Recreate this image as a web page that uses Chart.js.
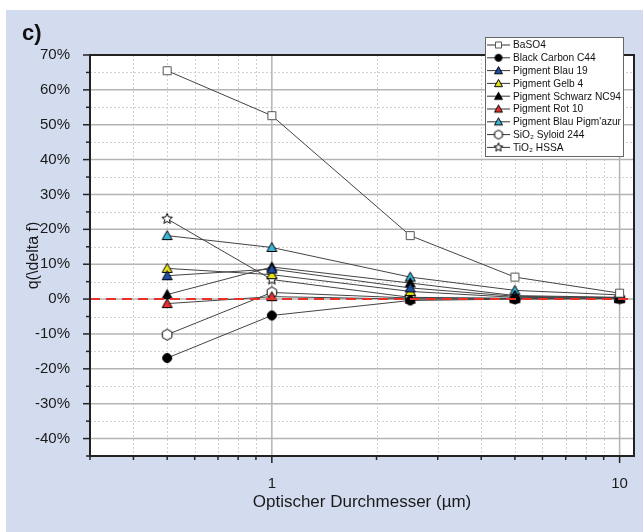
<!DOCTYPE html>
<html>
<head>
<meta charset="utf-8">
<script src="https://cdn.jsdelivr.net/npm/chart.js@4.4.1/dist/chart.umd.min.js"></script>
<style>
  html, body { margin: 0; padding: 0; background: #fff; }
  canvas { display: block; }
</style>
</head>
<body>
<canvas id="myChart" width="643" height="532"></canvas>
<script>
// Data (values in %)
const sizes = [0.5, 1, 2.5, 5, 10];
const seriesNames = [
  'BaSO4', 'Black Carbon C44', 'Pigment Blau 19', 'Pigment Gelb 4',
  'Pigment Schwarz NC94', 'Pigment Rot 10', "Pigment Blau Pigm'azur",
  'SiO\u2082 Syloid 244', 'TiO\u2082 HSSA'
];
const baso4       = [65.5, 52.6, 18.2, 6.3, 1.7];
const blackCarbon = [-16.9, -4.7, -0.4, 0.0, 0.2];
const blau19      = [6.7, 8.6, 3.2, 0.8, 0.4];
const gelb4       = [8.8, 7.0, 2.2, 0.5, 0.3];
const schwarz     = [1.3, 9.2, 4.6, 1.0, 0.5];
const rot10       = [-1.3, 0.7, 0.0, 0.1, 0.1];
const pigmazur    = [18.2, 14.8, 6.3, 2.5, 1.2];
const sio2        = [-10.2, 1.9, 0.3, 0.2, 0.2];
const tio2        = [23.0, 5.6, 0.5, 0.2, 0.2];
const zeroLineX   = [0.3, 11];

const xMajorTicks = [1, 10];
const xMinorTicks = [0.3, 0.4, 0.5, 0.6, 0.7, 0.8, 0.9, 2, 3, 4, 5, 6, 7, 8, 9];
const yMajorTicks = [-40, -30, -20, -10, 0, 10, 20, 30, 40, 50, 60, 70];
const yMinorTicks = [-45, -35, -25, -15, -5, 5, 15, 25, 35, 45, 55, 65];

const FONT = "'Liberation Sans', Arial, sans-serif";

function marker(shape, fill, stroke, size) {
  const c = document.createElement('canvas');
  c.width = c.height = Math.ceil(size + 3);
  const g = c.getContext('2d');
  const m = c.width / 2, r = size / 2;
  g.beginPath();
  if (shape === 'square') {
    g.rect(m - r, m - r, size, size);
  } else if (shape === 'circle') {
    g.arc(m, m, r, 0, Math.PI * 2);
  } else if (shape === 'triangle') {
    g.moveTo(m, m - r);
    g.lineTo(m + r, m + r * 0.8);
    g.lineTo(m - r, m + r * 0.8);
    g.closePath();
  } else if (shape === 'hexagon') {
    for (let k = 0; k < 6; k++) {
      const a = -Math.PI / 2 + k * Math.PI / 3;
      g.lineTo(m + r * Math.cos(a), m + r * Math.sin(a));
    }
    g.closePath();
  } else if (shape === 'star') {
    for (let k = 0; k < 10; k++) {
      const a = -Math.PI / 2 + k * Math.PI / 5;
      const rr = k % 2 ? r * 0.45 : r;
      g.lineTo(m + rr * Math.cos(a), m + rr * Math.sin(a));
    }
    g.closePath();
  }
  g.fillStyle = fill;
  g.fill();
  g.lineWidth = 1;
  g.strokeStyle = stroke;
  g.stroke();
  return c;
}

const styles = [
  { shape: 'square',   fill: '#ffffff', stroke: '#555555', size: 8 },
  { shape: 'circle',   fill: '#000000', stroke: '#000000', size: 9 },
  { shape: 'triangle', fill: '#1f4ea8', stroke: '#000000', size: 10 },
  { shape: 'triangle', fill: '#e6e21a', stroke: '#000000', size: 10 },
  { shape: 'triangle', fill: '#000000', stroke: '#000000', size: 10 },
  { shape: 'triangle', fill: '#e8302c', stroke: '#000000', size: 10 },
  { shape: 'triangle', fill: '#3bb6d6', stroke: '#000000', size: 10 },
  { shape: 'hexagon',  fill: '#ffffff', stroke: '#000000', size: 11 },
  { shape: 'star',     fill: '#ffffff', stroke: '#000000', size: 11 }
];
const seriesValues = [baso4, blackCarbon, blau19, gelb4, schwarz, rot10, pigmazur, sio2, tio2];

const datasets = [{
  label: 'zero',
  data: zeroLineX.map(x => ({ x: x, y: 0 })),
  borderColor: '#e8302c',
  borderWidth: 2,
  borderDash: [10, 6],
  pointRadius: 0,
  fill: false
}];
seriesValues.forEach((vals, i) => {
  const s = styles[i];
  datasets.push({
    label: seriesNames[i],
    data: sizes.map((x, j) => ({ x: x, y: vals[j] })),
    borderColor: '#444444',
    borderWidth: 1,
    pointStyle: marker(s.shape, s.fill, s.stroke, s.size),
    legendMarker: marker(s.shape, s.fill, s.stroke, s.size - 2),
    pointRadius: 5,
    fill: false,
    tension: 0
  });
});

const decor = {
  id: 'decor',
  beforeDraw(chart) {
    const { ctx, chartArea: a } = chart;
    ctx.save();
    ctx.fillStyle = '#ffffff';
    ctx.fillRect(0, 0, chart.width, chart.height);
    ctx.fillStyle = '#d3dcee';
    ctx.fillRect(6, 10, chart.width - 6, chart.height - 10);
    ctx.fillStyle = '#ffffff';
    ctx.fillRect(a.left, a.top, a.right - a.left, a.bottom - a.top);
    ctx.fillStyle = '#111';
    ctx.font = 'bold 22px ' + FONT;
    ctx.textBaseline = 'middle';
    ctx.fillText('c)', 22, 34);
    ctx.restore();
  },
  beforeDatasetsDraw(chart) {
    const { ctx, chartArea: a, scales: { x, y } } = chart;
    ctx.save();
    ctx.lineWidth = 1;
    ctx.strokeStyle = '#d0d0d0';
    ctx.setLineDash([2, 2]);
    xMinorTicks.forEach(v => {
      const px = Math.round(x.getPixelForValue(v)) + 0.5;
      ctx.beginPath(); ctx.moveTo(px, a.top); ctx.lineTo(px, a.bottom); ctx.stroke();
    });
    yMinorTicks.forEach(v => {
      const py = Math.round(y.getPixelForValue(v)) + 0.5;
      ctx.beginPath(); ctx.moveTo(a.left, py); ctx.lineTo(a.right, py); ctx.stroke();
    });
    ctx.setLineDash([]);
    ctx.strokeStyle = '#b4b4b4';
    ctx.lineWidth = 1.5;
    xMajorTicks.forEach(v => {
      const px = x.getPixelForValue(v);
      ctx.beginPath(); ctx.moveTo(px, a.top); ctx.lineTo(px, a.bottom); ctx.stroke();
    });
    yMajorTicks.forEach(v => {
      const py = y.getPixelForValue(v);
      ctx.beginPath(); ctx.moveTo(a.left, py); ctx.lineTo(a.right, py); ctx.stroke();
    });
    ctx.restore();
  },
  afterDraw(chart) {
    const { ctx, chartArea: a, scales: { x, y } } = chart;
    ctx.save();
    // frame
    ctx.strokeStyle = '#222';
    ctx.lineWidth = 2;
    ctx.strokeRect(a.left, a.top, a.right - a.left, a.bottom - a.top);
    // tick marks
    ctx.lineWidth = 1.5;
    const tick = (x0, y0, x1, y1) => { ctx.beginPath(); ctx.moveTo(x0, y0); ctx.lineTo(x1, y1); ctx.stroke(); };
    yMajorTicks.forEach(v => { const p = y.getPixelForValue(v); tick(a.left - 7, p, a.left, p); });
    yMinorTicks.forEach(v => { const p = y.getPixelForValue(v); tick(a.left - 4, p, a.left, p); });
    xMajorTicks.forEach(v => { const p = x.getPixelForValue(v); tick(p, a.bottom, p, a.bottom + 7); });
    xMinorTicks.forEach(v => { const p = x.getPixelForValue(v); tick(p, a.bottom, p, a.bottom + 4); });

    // legend
    const lx = 485, ly = 37, lw = 138, lh = 119;
    ctx.fillStyle = '#ffffff';
    ctx.fillRect(lx, ly, lw, lh);
    ctx.strokeStyle = '#666';
    ctx.lineWidth = 1;
    ctx.strokeRect(lx + 0.5, ly + 0.5, lw, lh);
    ctx.font = '10.2px ' + FONT;
    ctx.textBaseline = 'middle';
    chart.data.datasets.slice(1).forEach((ds, i) => {
      const cy = ly + 8 + i * 12.8;
      ctx.strokeStyle = '#333';
      ctx.beginPath(); ctx.moveTo(lx + 2, cy); ctx.lineTo(lx + 25, cy); ctx.stroke();
      const img = ds.legendMarker;
      ctx.drawImage(img, lx + 13.5 - img.width / 2, cy - img.height / 2);
      ctx.fillStyle = '#111';
      ctx.fillText(ds.label, lx + 28, cy + 0.5, lw - 30);
    });
    ctx.restore();
  }
};

new Chart(document.getElementById('myChart'), {
  type: 'line',
  data: { datasets: datasets },
  options: {
    responsive: false,
    animation: false,
    devicePixelRatio: 1,
    layout: { padding: { top: 55, right: 9, left: 0, bottom: 0 } },
    plugins: { legend: { display: false }, tooltip: { enabled: false } },
    scales: {
      x: {
        type: 'logarithmic',
        min: 0.3,
        max: 11,
        grid: { display: false },
        border: { display: false },
        afterBuildTicks: s => { s.ticks = xMajorTicks.map(v => ({ value: v })); },
        afterFit: s => { s.height = 76; },
        ticks: {
          padding: 11,
          color: '#1a1a1a',
          font: { family: FONT, size: 15 },
          callback: v => String(v)
        },
        title: {
          display: true,
          text: 'Optischer Durchmesser (\u00b5m)',
          color: '#1a1a1a',
          font: { family: FONT, size: 17 },
          padding: { top: 0, bottom: 19 }
        }
      },
      y: {
        type: 'linear',
        min: -45,
        max: 70,
        grid: { display: false },
        border: { display: false },
        afterBuildTicks: s => { s.ticks = yMajorTicks.map(v => ({ value: v })); },
        afterFit: s => { s.width = 90; },
        ticks: {
          padding: 12,
          color: '#1a1a1a',
          font: { family: FONT, size: 15 },
          callback: v => v + '%'
        },
        title: {
          display: true,
          text: 'q(\\delta f)',
          color: '#1a1a1a',
          font: { family: FONT, size: 16 },
          padding: { top: 24, bottom: 0 }
        }
      }
    }
  },
  plugins: [decor]
});
</script>
</body>
</html>
